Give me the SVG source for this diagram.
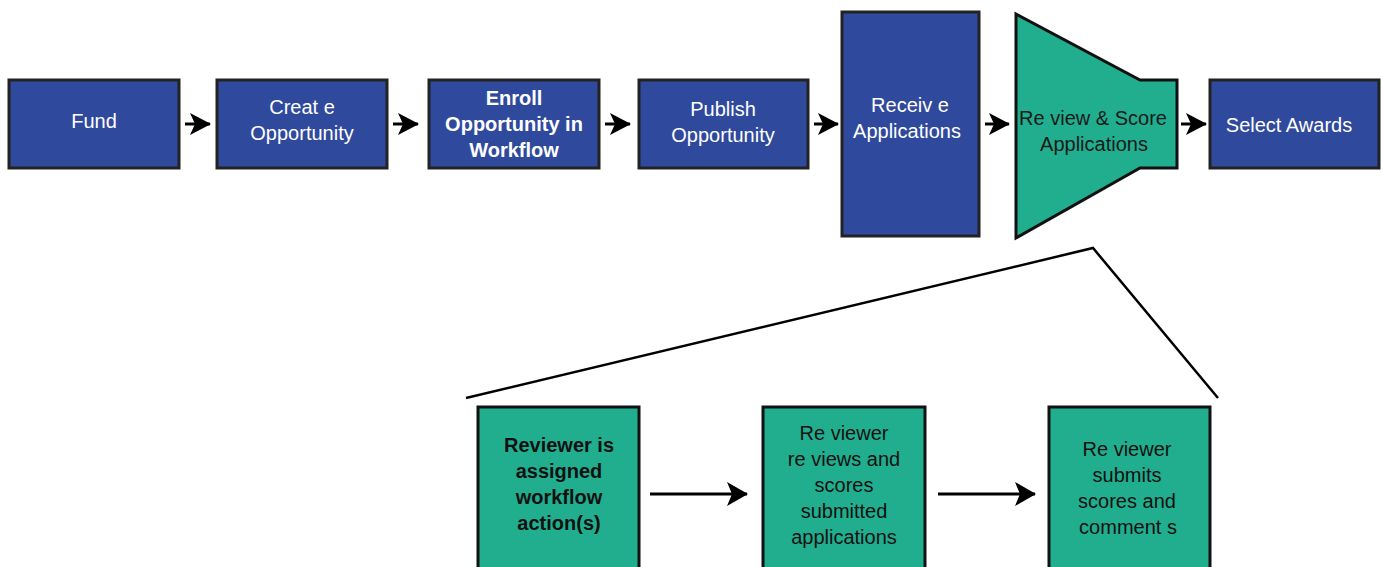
<svg xmlns="http://www.w3.org/2000/svg" width="1381" height="567" viewBox="0 0 1381 567">
<style>
.blue{fill:#2f499d;stroke:#222;stroke-width:3}
.teal{fill:#20ae8e;stroke:#111;stroke-width:3}
.wt{font-family:"Liberation Sans",Arial,sans-serif;font-size:20px;fill:#fff;text-anchor:middle}
.wb{font-weight:bold}
.dt{font-family:"Liberation Sans",Arial,sans-serif;font-size:20px;fill:#111;text-anchor:middle}
.conn{stroke:#000;stroke-width:3;fill:none}
.zoom{stroke:#000;stroke-width:2.5;fill:none}
</style>
<defs>
<marker id="ah" viewBox="0 0 21 22" refX="20" refY="11" markerWidth="21" markerHeight="22" markerUnits="userSpaceOnUse" orient="auto">
<path d="M0,0 L21,11 L0,22 L5,11 z" fill="#000"/>
</marker>
<marker id="ahb" viewBox="0 0 21 24" refX="20" refY="12" markerWidth="21" markerHeight="24" markerUnits="userSpaceOnUse" orient="auto">
<path d="M0,0 L21,12 L0,24 L5,12 z" fill="#000"/>
</marker>
</defs>
<rect width="1381" height="567" fill="#fff"/>
<g id="fund"><rect class="blue" x="9" y="80" width="170" height="88"/><text class="wt" x="94" y="128">Fund</text></g>
<g id="create"><rect class="blue" x="217" y="80" width="170" height="88"/><text class="wt" x="302" y="114">Creat e</text><text class="wt" x="302" y="140">Opportunity</text></g>
<g id="enroll"><rect class="blue" x="429" y="80" width="170" height="88"/><text class="wt wb" x="514" y="105">Enroll</text><text class="wt wb" x="514" y="131">Opportunity in</text><text class="wt wb" x="514" y="157">Workflow</text></g>
<g id="publish"><rect class="blue" x="639" y="80" width="169" height="88"/><text class="wt" x="723" y="116">Publish</text><text class="wt" x="723" y="142">Opportunity</text></g>
<g id="receive"><rect class="blue" x="842" y="12" width="137" height="224"/><text class="wt" x="910" y="112">Receiv e</text><text class="wt" x="907" y="138">Applications</text></g>
<g id="review"><path class="teal" d="M1016,14 L1140,80 L1177,80 L1177,168 L1140,168 L1016,238 Z"/><text class="wt" x="1093" y="125" style="fill:#1a1a1a">Re view &amp; Score</text><text class="wt" x="1094" y="151" style="fill:#1a1a1a">Applications</text></g>
<g id="select"><rect class="blue" x="1210" y="80" width="169" height="88"/><text class="wt" x="1289" y="132">Select Awards</text></g>
<g id="zoomlines"><path class="zoom" d="M466,398 L1093,248 L1218,398"/></g>
<g id="assigned"><rect class="teal" x="478" y="407" width="161" height="170"/><text class="dt" x="559" y="452" style="font-weight:bold">Reviewer is</text><text class="dt" x="559" y="478" style="font-weight:bold">assigned</text><text class="dt" x="559" y="504" style="font-weight:bold">workflow</text><text class="dt" x="559" y="530" style="font-weight:bold">action(s)</text></g>
<g id="reviews"><rect class="teal" x="763" y="407" width="162" height="170"/><text class="dt" x="844" y="440">Re viewer</text><text class="dt" x="844" y="466">re views and</text><text class="dt" x="844" y="492">scores</text><text class="dt" x="844" y="518">submitted</text><text class="dt" x="844" y="544">applications</text></g>
<g id="submits"><rect class="teal" x="1049" y="407" width="161" height="170"/><text class="dt" x="1127" y="456">Re viewer</text><text class="dt" x="1127" y="482">submits</text><text class="dt" x="1127" y="508">scores and</text><text class="dt" x="1128" y="534">comment s</text></g>
<g id="connectors">
<line class="conn" x1="185" y1="124" x2="210" y2="124" marker-end="url(#ah)"/>
<line class="conn" x1="393" y1="124" x2="418" y2="124" marker-end="url(#ah)"/>
<line class="conn" x1="605" y1="124" x2="630" y2="124" marker-end="url(#ah)"/>
<line class="conn" x1="814" y1="124" x2="838" y2="124" marker-end="url(#ah)"/>
<line class="conn" x1="985" y1="124" x2="1009" y2="124" marker-end="url(#ah)"/>
<line class="conn" x1="1181" y1="124" x2="1206" y2="124" marker-end="url(#ah)"/>
<line class="conn" x1="650" y1="494" x2="747" y2="494" marker-end="url(#ahb)"/>
<line class="conn" x1="938" y1="494" x2="1035" y2="494" marker-end="url(#ahb)"/>
</g>
</svg>
